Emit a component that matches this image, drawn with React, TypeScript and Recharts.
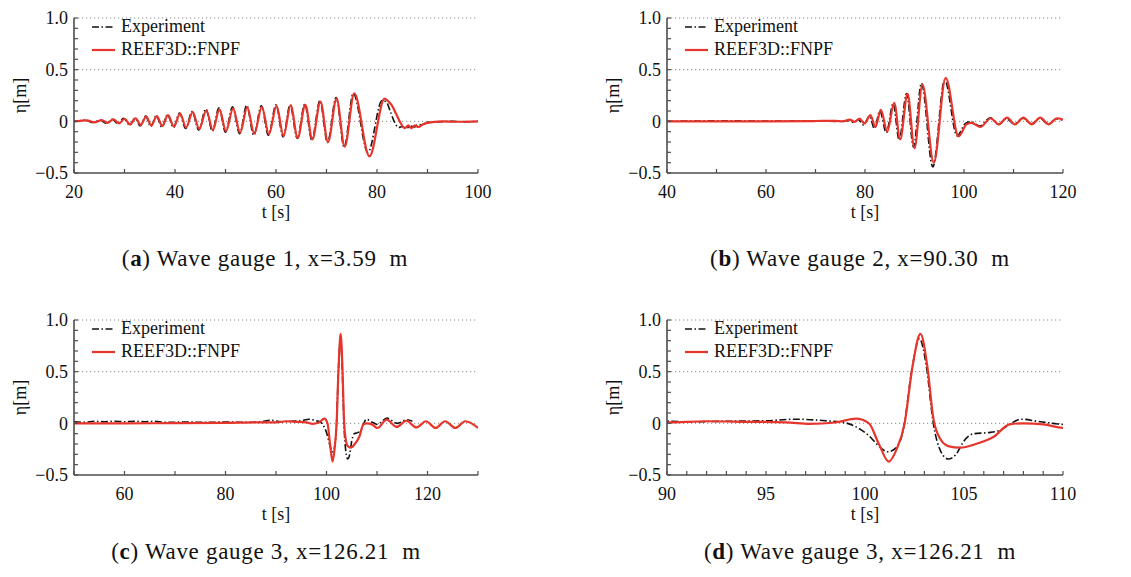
import React from 'react';
import { LineChart, Line, XAxis, YAxis, ReferenceLine, Legend } from 'recharts';

const SERIF = '"Liberation Serif", "Times New Roman", serif';
const RED = '#e8352c';
const BLACK = '#111111';
const AXIS = '#4d4d4d';

// ---- tick values ----
const yTicks = [-0.5, -0.4, -0.3, -0.2, -0.1, 0, 0.1, 0.2, 0.3, 0.4, 0.5, 0.6, 0.7, 0.8, 0.9, 1.0];
const yGrid = [0, 0.5, 1.0];
const ticksA = [20, 30, 40, 50, 60, 70, 80, 90, 100];
const ticksB = [40, 50, 60, 70, 80, 90, 100, 110, 120];
const ticksC = [50, 60, 70, 80, 90, 100, 110, 120, 130];
const ticksD = [90, 91, 92, 93, 94, 95, 96, 97, 98, 99, 100, 101, 102, 103, 104, 105, 106, 107, 108, 109, 110];

// ---- gauge 1 (t [s], eta [m]) ----
const gauge1Experiment: [number, number][] = [
  [20, 0.0], [21, 0.005], [22.3, 0.012], [23.6, -0.012], [25.2, 0.01], [26.4, -0.02], [27.6, 0.02],
  [28.7, -0.025], [29.8, 0.03], [31.0, -0.035], [32.1, 0.03], [33.1, -0.045], [34.2, 0.05], [35.2, -0.05],
  [36.3, 0.055], [37.4, -0.055], [38.5, 0.065], [39.7, -0.06], [40.9, 0.08], [42.1, -0.07], [43.4, 0.095],
  [44.7, -0.085], [46.1, 0.12], [47.4, -0.095], [48.7, 0.13], [50.0, -0.105], [51.4, 0.14], [52.8, -0.12],
  [54.2, 0.155], [55.6, -0.135], [57.1, 0.15], [58.5, -0.135], [60.0, 0.16], [61.4, -0.15], [62.8, 0.16],
  [64.2, -0.165], [65.7, 0.165], [67.1, -0.18], [68.7, 0.2], [70.2, -0.205], [71.9, 0.23], [73.5, -0.25],
  [75.3, 0.27], [78.2, -0.3], [81.0, 0.2], [81.8, 0.19], [82.6, 0.1], [83.4, 0.0], [84.3, -0.06],
  [85.0, -0.05], [85.8, -0.07], [86.6, -0.045], [87.4, -0.055], [88.2, -0.03], [89.0, -0.035],
  [90.0, -0.01], [92, -0.005], [95, 0.0], [97, -0.005], [100, 0.0],
];
const gauge1Model: [number, number][] = [
  [20, 0.0], [21.2, 0.005], [22.5, 0.01], [24.0, -0.01], [25.5, 0.012], [26.6, -0.015], [27.8, 0.02],
  [28.9, -0.02], [30.0, 0.025], [31.1, -0.03], [32.2, 0.03], [33.2, -0.035], [34.3, 0.045], [35.3, -0.04],
  [36.4, 0.05], [37.5, -0.045], [38.6, 0.06], [39.8, -0.05], [41.0, 0.075], [42.2, -0.06], [43.5, 0.09],
  [44.8, -0.075], [46.2, 0.105], [47.5, -0.085], [48.8, 0.115], [50.1, -0.095], [51.5, 0.125], [52.9, -0.11],
  [54.3, 0.135], [55.7, -0.12], [57.2, 0.14], [58.6, -0.125], [60.1, 0.15], [61.5, -0.14], [62.9, 0.155],
  [64.3, -0.16], [65.8, 0.16], [67.2, -0.175], [68.8, 0.19], [70.3, -0.2], [72.0, 0.22], [73.6, -0.245],
  [75.5, 0.27], [78.5, -0.34], [81.5, 0.22], [82.3, 0.19], [83.0, 0.15], [83.8, 0.07], [84.5, 0.0],
  [85.5, -0.065], [86.2, -0.04], [86.8, -0.065], [87.5, -0.04], [88.2, -0.055], [89.2, -0.025],
  [91.0, -0.008], [93.0, 0.0], [96.0, -0.004], [100, 0.0],
];

// ---- gauge 2 ----
const gauge2Experiment: [number, number][] = [
  [40, 0.0], [45, 0.003], [52, 0.005], [60, 0.002], [68, 0.005], [74, 0.0], [76.7, 0.005], [77.7, -0.01],
  [78.7, 0.015], [79.7, -0.035], [80.9, 0.05], [81.9, -0.07], [83.0, 0.1], [84.3, -0.11], [85.7, 0.17],
  [86.9, -0.18], [88.4, 0.27], [89.8, -0.25], [91.4, 0.37], [93.7, -0.44], [96.1, 0.4], [98.6, -0.14],
  [100.3, -0.02], [101.4, -0.005], [103.2, -0.045], [105.3, 0.035], [107.0, -0.03], [108.6, 0.025],
  [110.2, -0.025], [111.9, 0.03], [113.6, -0.025], [115.3, 0.03], [117.0, -0.025], [118.7, 0.025], [120, 0.01],
];
const gauge2Model: [number, number][] = [
  [40, 0.0], [50, 0.0], [60, 0.0], [70, 0.003], [74, 0.005], [75.5, 0.0], [76.9, 0.016], [77.9, -0.005],
  [78.9, 0.026], [79.9, -0.02], [81.1, 0.06], [82.1, -0.055], [83.2, 0.11], [84.5, -0.1], [85.9, 0.18],
  [87.1, -0.175], [88.6, 0.265], [90.0, -0.26], [91.6, 0.355], [93.9, -0.4], [96.3, 0.42], [98.9, -0.145],
  [100.5, -0.03], [101.5, -0.015], [103.3, -0.055], [105.4, 0.03], [107.0, -0.03], [108.7, 0.035],
  [110.3, -0.03], [112.0, 0.035], [113.7, -0.03], [115.4, 0.035], [117.1, -0.03], [118.8, 0.03], [120, 0.015],
];

// ---- gauge 3 ----
const gauge3Experiment: [number, number][] = [
  [50, 0.015], [52, 0.01], [54, 0.02], [56, 0.015], [58, 0.02], [60, 0.015], [62, 0.02], [64, 0.015],
  [66, 0.02], [68, 0.01], [72, 0.012], [76, 0.01], [80, 0.012], [84, 0.01], [87, 0.015], [89, 0.03],
  [91, 0.015], [93, 0.02], [95, 0.025], [96.5, 0.04], [98, 0.025], [99, 0.005], [99.6, -0.04],
  [100.2, -0.12], [100.7, -0.22], [101.15, -0.275], [101.55, -0.24], [101.95, -0.05], [102.35, 0.5],
  [102.75, 0.82], [103.1, 0.55], [103.45, 0.0], [103.85, -0.28], [104.2, -0.345], [104.6, -0.3],
  [105.0, -0.17], [105.5, -0.1], [106.2, -0.09], [106.8, -0.07], [107.3, -0.01], [107.9, 0.04],
  [108.7, 0.02], [109.5, 0.0], [110.0, -0.01], [112.0, 0.05], [114.0, 0.0], [116.0, 0.035], [117.0, 0.02],
];
const gauge3Model: [number, number][] = [
  [50, 0.0], [60, 0.0], [70, 0.002], [80, 0.005], [86, 0.01], [90, 0.01], [92, 0.02], [94, 0.015],
  [96, 0.01], [97.2, -0.005], [98.5, 0.008], [99.55, 0.045], [100.2, 0.0], [100.7, -0.2], [101.2, -0.37],
  [101.6, -0.25], [102.0, 0.0], [102.4, 0.55], [102.8, 0.865], [103.15, 0.55], [103.45, 0.05],
  [103.8, -0.15], [104.2, -0.22], [104.8, -0.235], [105.6, -0.2], [106.5, -0.13], [107.3, -0.01],
  [108.0, 0.0], [109.0, -0.01], [110.1, -0.045], [111.9, 0.035], [113.9, -0.035], [115.8, 0.025],
  [117.8, -0.04], [119.7, 0.02], [121.6, -0.045], [123.5, 0.02], [125.5, -0.045], [127.5, 0.02], [130, -0.045],
];

const toRows = (pairs: [number, number][]) => pairs.map(([t, eta]) => ({ t, eta }));

const fmtY = (v: number) => {
  if (Math.abs(v - 1) < 1e-9) return '1.0';
  if (Math.abs(v - 0.5) < 1e-9) return '0.5';
  if (Math.abs(v) < 1e-9) return '0';
  if (Math.abs(v + 0.5) < 1e-9) return '\u22120.5';
  return '';
};

const renderLegend = (props: any) => {
  const payload = props.payload || [];
  return (
    <div style={{ fontFamily: SERIF, fontSize: 18, color: BLACK }}>
      {payload.map((e: any) => (
        <div key={e.value} style={{ display: 'flex', alignItems: 'center', height: 23 }}>
          <svg width={23} height={10} style={{ display: 'block' }}>
            <line
              x1={0}
              y1={5}
              x2={23}
              y2={5}
              stroke={e.color}
              strokeWidth={e.color === RED ? 2.2 : 1.6}
              strokeDasharray={e.payload && e.payload.strokeDasharray}
            />
          </svg>
          <span style={{ marginLeft: 6, lineHeight: '23px' }}>{e.value}</span>
        </div>
      ))}
    </div>
  );
};

type PanelProps = {
  left: number;
  top: number;
  width: number;
  marginRight: number;
  domain: [number, number];
  ticks: number[];
  labelEvery: number;
  exp: [number, number][];
  model: [number, number][];
};

function Panel({ left, top, width, marginRight, domain, ticks, labelEvery, exp, model }: PanelProps) {
  const tickStyle = { fill: BLACK, fontSize: 18, fontFamily: SERIF };
  return (
    <div style={{ position: 'absolute', left, top }}>
      <LineChart width={width} height={240} margin={{ top: 18, right: marginRight, bottom: 0, left: 0 }}>
        <XAxis
          type="number"
          dataKey="t"
          domain={domain}
          ticks={ticks}
          interval={0}
          allowDataOverflow
          height={67}
          tickSize={-4}
          tickMargin={16.5}
          tick={tickStyle}
          tickLine={{ stroke: AXIS, strokeWidth: 1.2 }}
          axisLine={{ stroke: AXIS, strokeWidth: 1.6 }}
          tickFormatter={(v: number) => (Math.abs(v % labelEvery) < 1e-9 ? String(v) : '')}
          label={{ value: 't [s]', position: 'insideBottom', offset: 22, style: { fontFamily: SERIF, fontSize: 18, fill: BLACK } }}
        />
        <YAxis
          type="number"
          domain={[-0.5, 1]}
          ticks={yTicks}
          interval={0}
          allowDataOverflow
          width={74}
          tickSize={-4}
          tickMargin={10}
          tick={tickStyle}
          tickLine={{ stroke: AXIS, strokeWidth: 1.2 }}
          axisLine={{ stroke: AXIS, strokeWidth: 1.6 }}
          tickFormatter={fmtY}
          label={{ value: '\u03b7[m]', angle: -90, position: 'insideLeft', offset: 20, style: { textAnchor: 'middle', fontFamily: SERIF, fontSize: 18, fill: BLACK } }}
        />
        {yGrid.map((g) => (
          <ReferenceLine key={g} y={g} stroke="#8a8a8a" strokeWidth={1} strokeDasharray="1.2 2.8" />
        ))}
        <Line
          data={toRows(exp)}
          dataKey="eta"
          name="Experiment"
          type="monotone"
          stroke={BLACK}
          strokeWidth={1.6}
          strokeDasharray="7 2.5 1.5 2.5"
          dot={false}
          isAnimationActive={false}
        />
        <Line
          data={toRows(model)}
          dataKey="eta"
          name="REEF3D::FNPF"
          type="monotone"
          stroke={RED}
          strokeWidth={2.2}
          dot={false}
          isAnimationActive={false}
        />
        <Legend
          layout="vertical"
          align="center"
          verticalAlign="middle"
          content={renderLegend}
          wrapperStyle={{ left: 92, top: 15, width: 'auto', height: 'auto' }}
        />
      </LineChart>
    </div>
  );
}

const captionStyle: React.CSSProperties = {
  position: 'absolute',
  width: 420,
  textAlign: 'center',
  fontFamily: SERIF,
  fontSize: 23,
  lineHeight: '23px',
  letterSpacing: 0.7,
  color: BLACK,
  whiteSpace: 'pre',
};

export default function App() {
  return (
    <div style={{ position: 'absolute', left: 0, top: 0, width: 1131, height: 577, background: '#fff', overflow: 'hidden' }}>
      <Panel left={0} top={0} width={560} marginRight={82} domain={[20, 100]} ticks={ticksA} labelEvery={20} exp={gauge1Experiment} model={gauge1Model} />
      <Panel left={593} top={0} width={538} marginRight={68} domain={[40, 120]} ticks={ticksB} labelEvery={20} exp={gauge2Experiment} model={gauge2Model} />
      <Panel left={0} top={302} width={560} marginRight={82} domain={[50, 130]} ticks={ticksC} labelEvery={20} exp={gauge3Experiment} model={gauge3Model} />
      <Panel left={593} top={302} width={538} marginRight={68} domain={[90, 110]} ticks={ticksD} labelEvery={5} exp={gauge3Experiment} model={gauge3Model} />

      <div style={{ ...captionStyle, left: 265 - 210, top: 247 }}>
        (<b>a</b>) Wave gauge 1, x=3.59{'  '}m
      </div>
      <div style={{ ...captionStyle, left: 860 - 210, top: 247 }}>
        (<b>b</b>) Wave gauge 2, x=90.30{'  '}m
      </div>
      <div style={{ ...captionStyle, left: 266 - 210, top: 540 }}>
        (<b>c</b>) Wave gauge 3, x=126.21{'  '}m
      </div>
      <div style={{ ...captionStyle, left: 860 - 210, top: 540 }}>
        (<b>d</b>) Wave gauge 3, x=126.21{'  '}m
      </div>
    </div>
  );
}
